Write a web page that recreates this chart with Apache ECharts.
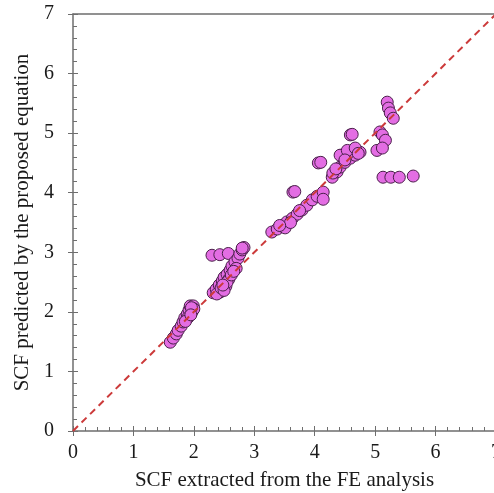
<!DOCTYPE html>
<html>
<head>
<meta charset="utf-8">
<script src="https://cdn.jsdelivr.net/npm/echarts@6/dist/echarts.min.js"></script>
<style>
  html, body { margin: 0; padding: 0; background: #fff; }
  #chart { width: 494px; height: 493px; }
</style>
</head>
<body>
<div id="chart"></div>
<script>
  // 数据: SCF FE vs predicted
  var lowPoints = [[1.61,1.49],[1.66,1.56],[1.71,1.63],[1.74,1.69],[1.79,1.76],[1.82,1.83],[1.85,1.90],[1.89,1.96],[1.92,2.03],[1.94,2.10],[1.99,2.10],[1.97,2.00],[1.90,1.90],[2.00,2.05],[1.96,2.07],[1.86,1.84],[1.95,1.95]]
  var midPoints = [[2.30,2.95],[2.43,2.96],[2.57,2.98],[2.32,2.32],[2.37,2.38],[2.42,2.45],[2.47,2.52],[2.50,2.58],[2.55,2.63],[2.60,2.70],[2.63,2.77],[2.68,2.84],[2.73,2.90],[2.76,2.97],[2.80,3.04],[2.83,3.08],[2.80,3.07],[2.43,2.33],[2.53,2.43],[2.38,2.30],[2.58,2.55],[2.70,2.73],[2.45,2.40],[2.50,2.36],[2.55,2.50],[2.62,2.62],[2.48,2.45],[2.66,2.68]]
  var upperMidPoints = [[3.29,3.34],[3.38,3.39],[3.46,3.44],[3.54,3.51],[3.63,3.57],[3.71,3.64],[3.79,3.71],[3.87,3.79],[3.96,3.88],[4.04,3.94],[4.14,4.01],[4.14,3.89],[3.51,3.41],[3.64,4.01],[3.67,4.02],[3.60,3.50],[3.75,3.70],[3.42,3.45]]
  var upperPoints = [[4.06,4.50],[4.10,4.51],[4.29,4.26],[4.37,4.35],[4.42,4.43],[4.50,4.51],[4.59,4.58],[4.67,4.63],[4.75,4.68],[4.45,4.63],[4.55,4.66],[4.42,4.63],[4.54,4.71],[4.67,4.75],[4.50,4.55],[4.30,4.33],[4.72,4.66],[4.59,4.97],[4.62,4.98],[4.35,4.40]]
  var rightPoints = [[5.20,5.52],[5.22,5.42],[5.25,5.34],[5.30,5.25],[5.08,5.02],[5.12,4.97],[5.17,4.88],[5.03,4.71],[5.12,4.75],[5.13,4.26],[5.26,4.26],[5.40,4.26],[5.63,4.28]]
  var refLine = [[0,0],[7,7]]
  var tickLabels = ['0','1','2','3','4','5','6','7']

  var allPoints = lowPoints.concat(midPoints, upperMidPoints, upperPoints, rightPoints)

  var axisColor = '#6e6e6e'
  var font = 'Liberation Serif'

  function mainAxis(pos, name, gap) {
    return {
      type: 'value', position: pos, min: 0, max: 7, interval: 1,
      name: name, nameLocation: 'middle', nameGap: gap,
      nameTextStyle: { fontFamily: font, fontSize: 21, color: '#1a1a1a' },
      axisLine: { lineStyle: { color: axisColor, width: 1.5 } },
      axisTick: { inside: true, length: 5, lineStyle: { color: axisColor } },
      minorTick: { show: true, splitNumber: 5, length: 4, lineStyle: { color: axisColor } },
      axisLabel: {
        fontFamily: font, fontSize: 20, color: '#1a1a1a',
        margin: pos === 'bottom' ? 12 : 19,
        formatter: function (v) { return tickLabels[Math.round(v)] }
      },
      splitLine: { show: false }
    }
  }
  function outTickAxis(pos) {
    return {
      type: 'value', position: pos, min: 0, max: 7, interval: 1,
      axisLine: { show: false },
      axisTick: { inside: false, length: 5, lineStyle: { color: axisColor } },
      axisLabel: { show: false },
      splitLine: { show: false }
    }
  }
  function borderAxis(pos) {
    return {
      type: 'value', position: pos, min: 0, max: 7,
      axisLine: { show: true, onZero: false, lineStyle: { color: axisColor, width: 1.5 } },
      axisTick: { show: false }, axisLabel: { show: false }, splitLine: { show: false }
    }
  }

  var chart = echarts.init(document.getElementById('chart'))
  chart.setOption({
    animation: false,
    grid: { left: 73, top: 14, right: -2, bottom: 62, outerBoundsMode: 'none', containLabel: false },
    xAxis: [mainAxis('bottom', 'SCF extracted from the FE analysis', 39), outTickAxis('bottom'), borderAxis('top')],
    yAxis: [mainAxis('left', 'SCF predicted by the proposed equation', 40), outTickAxis('left'), borderAxis('right')],
    series: [
      {
        type: 'scatter', data: allPoints, symbolSize: 12, z: 2,
        itemStyle: { color: '#e36de3', borderColor: '#4a1f4a', borderWidth: 1, opacity: 1 }
      },
      {
        type: 'line', data: refLine, symbol: 'none', z: 3,
        lineStyle: { color: '#cc3a3a', width: 2, type: [7, 5] }
      }
    ]
  })
</script>
</body>
</html>
